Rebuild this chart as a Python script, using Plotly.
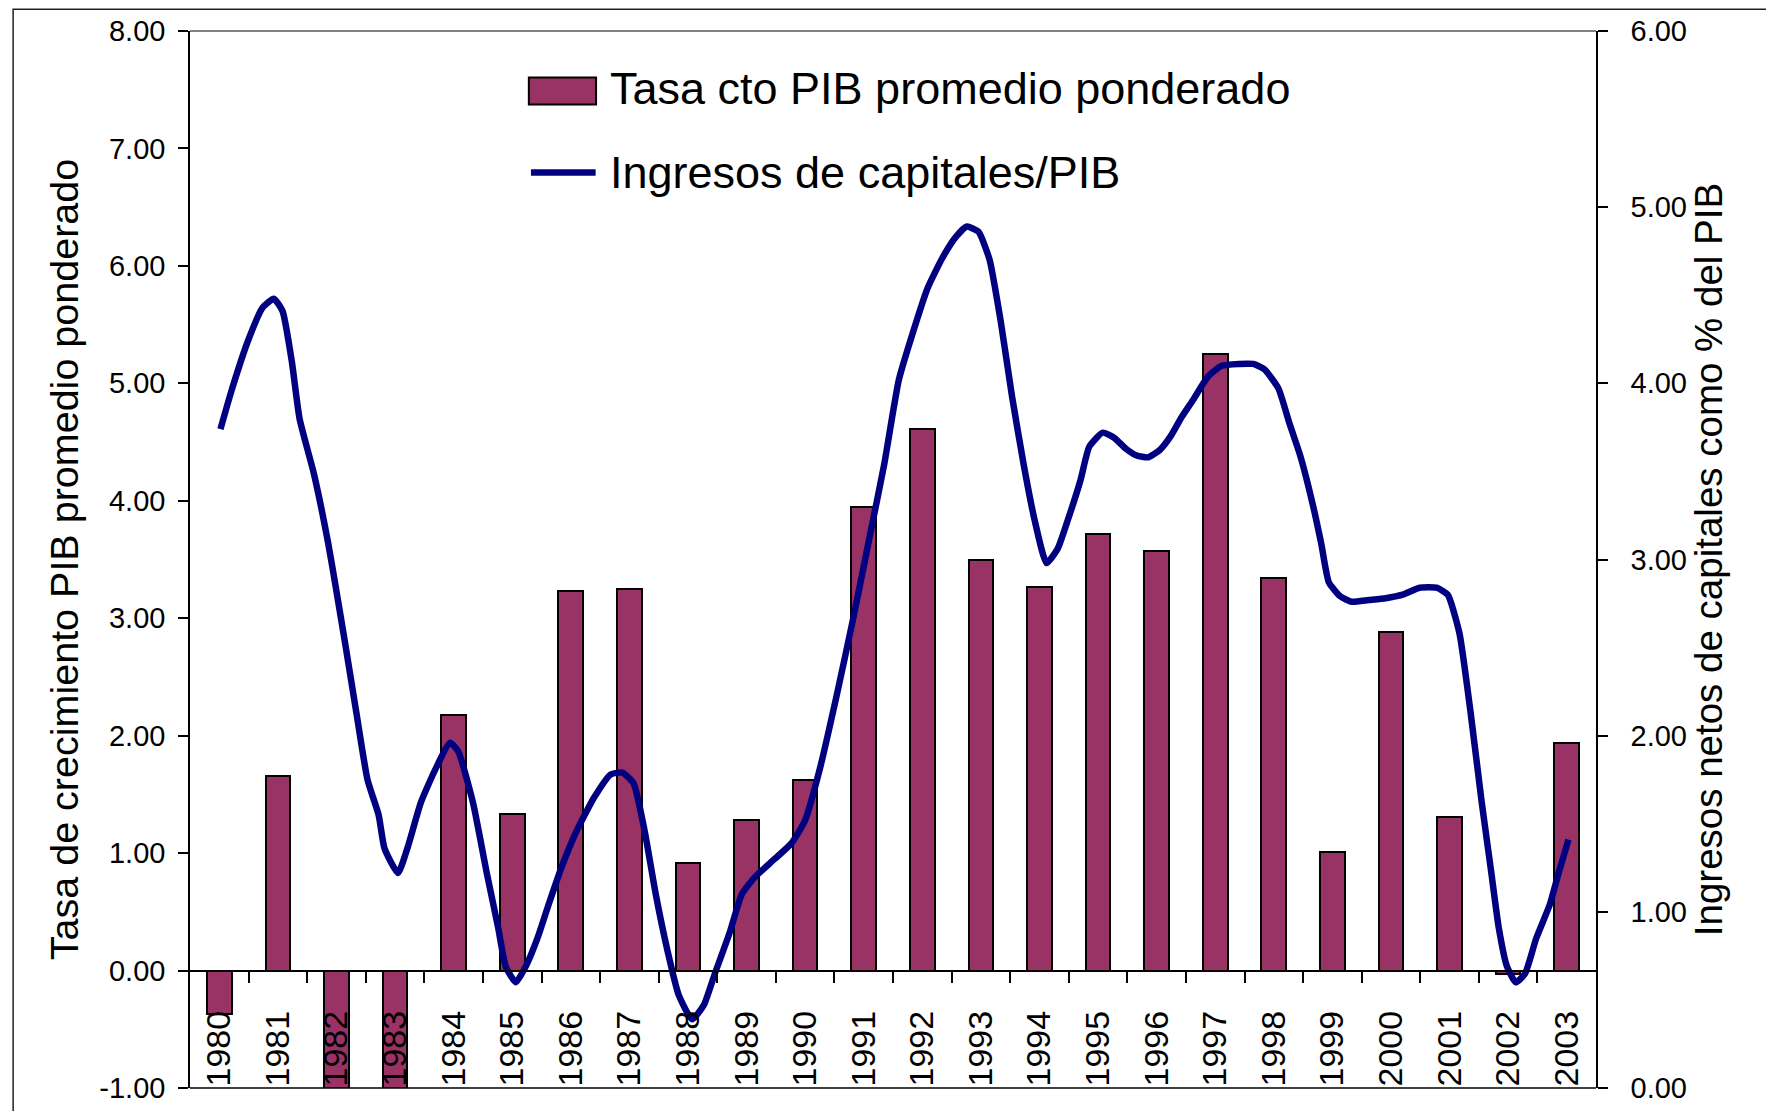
import plotly.graph_objects as go

# categorías (años)
years = list(range(1980, 2004))
year_labels = [str(y) for y in years]

# Tasa cto PIB promedio ponderado (eje izquierdo)
pib_growth = [-0.37, 1.66, -1.50, -1.50, 2.18, 1.33, 3.23, 3.25, 0.92, 1.28,
              1.62, 3.95, 4.61, 3.50, 3.27, 3.72, 3.57, 5.25, 3.34, 1.01,
              2.88, 1.31, -0.03, 1.94]

# Ingresos de capitales/PIB (eje derecho), leído sobre la curva suavizada
line_years = [1980.02, 1980.21, 1980.50, 1980.74, 1980.93,
              1981.08, 1981.24, 1981.37, 1981.62, 1981.86, 1981.99,
              1982.15, 1982.34, 1982.53, 1982.72, 1982.82,
              1983.05, 1983.21, 1983.44, 1983.69, 1983.94,
              1984.08, 1984.33, 1984.56, 1984.76, 1984.89,
              1985.06, 1985.23, 1985.43, 1985.62, 1985.85,
              1986.10, 1986.40, 1986.68, 1986.88,
              1987.07, 1987.26, 1987.45, 1987.65, 1987.84,
              1988.07, 1988.27, 1988.46, 1988.71, 1988.92,
              1989.15, 1989.48, 1989.77,
              1990.00, 1990.25, 1990.54, 1990.83,
              1991.12, 1991.35, 1991.60, 1991.86,
              1992.09, 1992.34, 1992.57, 1992.76, 1992.96,
              1993.15, 1993.34, 1993.53, 1993.73, 1993.92,
              1994.12, 1994.31, 1994.51, 1994.70, 1994.85,
              1995.08, 1995.28, 1995.47, 1995.66, 1995.85,
              1996.05, 1996.24, 1996.43, 1996.63, 1996.88,
              1997.11, 1997.40, 1997.65, 1997.84,
              1998.08, 1998.27, 1998.46, 1998.66, 1998.81, 1998.94,
              1999.14, 1999.33, 1999.62, 1999.91,
              2000.20, 2000.49, 2000.78, 2000.97,
              2001.17, 2001.36, 2001.55, 2001.71, 2001.84, 2001.98,
              2002.13, 2002.29, 2002.48, 2002.71, 2002.87,
              2003.03]
capital_inflows = [3.74, 3.96, 4.25, 4.43, 4.48,
                   4.41, 4.12, 3.80, 3.48, 3.09, 2.84,
                   2.52, 2.13, 1.75, 1.55, 1.36,
                   1.22, 1.36, 1.62, 1.81, 1.96,
                   1.91, 1.62, 1.23, 0.91, 0.69,
                   0.60, 0.69, 0.85, 1.04, 1.26,
                   1.46, 1.65, 1.78, 1.79,
                   1.73, 1.46, 1.10, 0.78, 0.53,
                   0.39, 0.47, 0.65, 0.88, 1.10,
                   1.20, 1.30, 1.39,
                   1.52, 1.81, 2.23, 2.68,
                   3.16, 3.54, 4.02, 4.31,
                   4.54, 4.71, 4.83, 4.89, 4.86,
                   4.70, 4.35, 3.93, 3.54, 3.22,
                   2.98, 3.06, 3.25, 3.45, 3.64,
                   3.72, 3.69, 3.63, 3.59, 3.58,
                   3.62, 3.70, 3.81, 3.91, 4.04,
                   4.10, 4.11, 4.11, 4.08,
                   3.97, 3.77, 3.58, 3.32, 3.09, 2.87,
                   2.79, 2.76, 2.77, 2.78,
                   2.80, 2.84, 2.84, 2.80,
                   2.58, 2.13, 1.62, 1.23, 0.91, 0.69,
                   0.60, 0.65, 0.85, 1.04, 1.23,
                   1.41]

bar_name = "Tasa cto PIB promedio ponderado"
line_name = "Ingresos de capitales/PIB"
left_title = "Tasa de crecimiento PIB promedio ponderado"
right_title = "Ingresos netos de capitales como % del PIB"

left_ticks = list(range(-1, 9))
right_ticks = list(range(0, 7))
left_labels = ["%.2f" % v for v in left_ticks]   # keeps the plain hyphen in -1.00
right_labels = ["%.2f" % v for v in right_ticks]

FONT = "Liberation Sans, Arial, sans-serif"
BAR_COLOR = "#993366"
LINE_COLOR = "#000080"

x_range = [years[0] - 0.5, years[-1] + 0.5]
boundaries = [y + 0.5 for y in years[:-1]]
zero_pos = 1 / 9  # y=0 on the left axis, in paper units

fig = go.Figure()

fig.add_trace(go.Bar(
    x=years, y=pib_growth, name=bar_name, width=0.42,
    marker=dict(color=BAR_COLOR, line=dict(color="black", width=2)),
    showlegend=False, xaxis="x", yaxis="y"))

fig.add_trace(go.Scatter(
    x=line_years, y=capital_inflows, name=line_name, mode="lines",
    line=dict(color=LINE_COLOR, width=6.5, shape="spline", smoothing=0.5),
    showlegend=False, xaxis="x", yaxis="y2"))

fig.update_layout(
    width=1774, height=1111,
    margin=dict(l=182, r=186, t=23, b=31),
    paper_bgcolor="white", plot_bgcolor="white",
    font=dict(family=FONT, color="black"),
    bargap=0,
    xaxis=dict(
        range=x_range, anchor="free", position=zero_pos, domain=[0, 1],
        tickvals=years, ticktext=year_labels, tickangle=-90,
        tickfont=dict(size=34), ticks="outside", ticklen=12,
        tickcolor="rgba(0,0,0,0)", ticklabelstandoff=14,
        minor=dict(tickvals=boundaries, ticks="outside", ticklen=12,
                   tickcolor="black", tickwidth=1.5),
        showline=True, linecolor="black", linewidth=1.5,
        showgrid=False, zeroline=False, automargin=False),
    xaxis3=dict(
        range=x_range, overlaying="x", anchor="free", position=zero_pos,
        tickvals=boundaries, ticks="inside", ticklen=12, tickcolor="black",
        tickwidth=1.5, showticklabels=False, showline=False,
        showgrid=False, zeroline=False, automargin=False),
    yaxis=dict(
        range=[-1, 8], tickvals=left_ticks, ticktext=left_labels,
        tickfont=dict(size=29), ticks="outside", ticklen=10, tickwidth=1.5,
        tickcolor="black", ticklabelstandoff=7,
        showline=True, linecolor="black", linewidth=1.5,
        showgrid=False, zeroline=False, automargin=False,
        title=dict(text=left_title, font=dict(size=39.5), standoff=9)),
    yaxis2=dict(
        range=[0, 6], tickvals=right_ticks, ticktext=right_labels,
        side="right", overlaying="y", anchor="x",
        tickfont=dict(size=29), ticks="outside", ticklen=10, tickwidth=1.5,
        tickcolor="black", ticklabelstandoff=17,
        showline=True, linecolor="black", linewidth=1.5,
        showgrid=False, zeroline=False, automargin=False,
        title=dict(text=right_title, font=dict(size=38.5), standoff=7)),
    yaxis3=dict(
        range=[-1, 8], tickvals=left_ticks, overlaying="y", side="left",
        ticks="inside", ticklen=10, tickwidth=1.5, tickcolor="black",
        showticklabels=False, showline=False, showgrid=False,
        zeroline=False, automargin=False),
    yaxis4=dict(
        range=[0, 6], tickvals=right_ticks, overlaying="y", side="right",
        ticks="inside", ticklen=10, tickwidth=1.5, tickcolor="black",
        showticklabels=False, showline=False, showgrid=False,
        zeroline=False, automargin=False),
)

# plot area border (top grey, bottom black) and outer frame
fig.add_shape(type="line", xref="paper", yref="paper", x0=0, x1=1, y0=1, y1=1,
              line=dict(color="#808080", width=2))
fig.add_shape(type="line", xref="paper", yref="paper", x0=0, x1=1, y0=0, y1=0,
              line=dict(color="black", width=1.5))
fig.add_shape(type="rect", xref="paper", yref="paper",
              x0=-0.1258, x1=1.2, y0=-0.05, y1=1.0205,
              line=dict(color="#202020", width=1.5), layer="below")

# manual legend
fig.add_shape(type="rect", xref="paper", yref="paper",
              x0=0.241, x1=0.2888, y0=0.9305, y1=0.956,
              fillcolor=BAR_COLOR, line=dict(color="black", width=2))
fig.add_shape(type="line", xref="paper", yref="paper",
              x0=0.2425, x1=0.2885, y0=0.8662, y1=0.8662,
              line=dict(color=LINE_COLOR, width=6.5))
fig.add_annotation(xref="paper", yref="paper", x=0.297, y=0.9456,
                   text=bar_name, showarrow=False, xanchor="left",
                   yanchor="middle", font=dict(size=45))
fig.add_annotation(xref="paper", yref="paper", x=0.297, y=0.8662,
                   text=line_name, showarrow=False, xanchor="left",
                   yanchor="middle", font=dict(size=45))

fig.write_html("out.html")
